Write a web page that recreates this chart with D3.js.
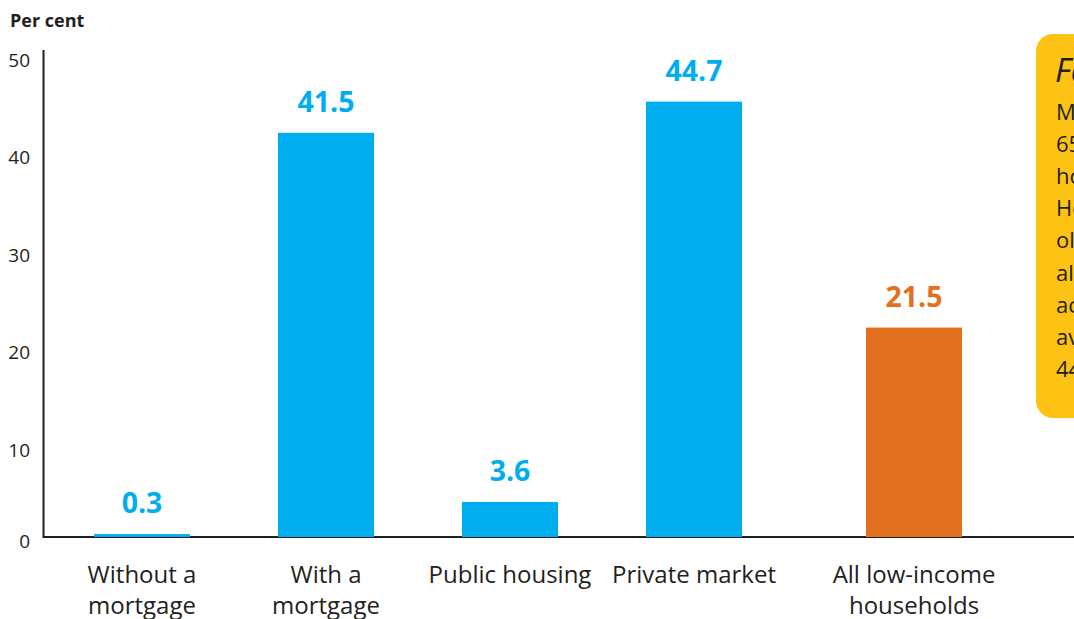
<!DOCTYPE html>
<html>
<head>
<meta charset="utf-8">
<script src="https://cdn.jsdelivr.net/npm/d3@7"></script>
<style>
  html, body { margin: 0; padding: 0; background: #fff; }
  svg { display: block; font-family: "Open Sans", "Noto Sans", sans-serif; }
</style>
</head>
<body>
<svg id="chart" width="1074" height="619"></svg>
<script>
// ---- data ----
const categories = ["Without a\nmortgage", "With a\nmortgage", "Public housing", "Private market", "All low-income\nhouseholds"];
const values = [0.3, 41.5, 3.6, 44.7, 21.5];
const isTotal = [false, false, false, false, true];
const yTicks = [0, 10, 20, 30, 40, 50];
const yTitle = "Per cent";
const calloutTitle = "Fast fact";
const calloutLines = ["Most", "65 per", "households", "However,", "older", "also", "across", "average", "44"];

// ---- style ----
const BLUE = "#00aeef", ORANGE = "#e2701e", YELLOW = "#fdc314", INK = "#231f20";

const svg = d3.select("#chart");

const y = d3.scaleLinear().domain([0, 50]).range([537, 50]);
const x = d3.scaleBand().domain(categories).range([50, 50 + 5 * 184]).paddingInner(0.478).paddingOuter(0.239);
const totalGap = 36;
const xPos = (d, i) => x(d) + (isTotal[i] ? totalGap : 0);

// callout box (behind, partially off-canvas as in the original)
const cb = svg.append("g");
cb.append("rect").attr("x", 1036).attr("y", 34).attr("width", 120).attr("height", 384)
  .attr("rx", 17).attr("fill", YELLOW);
cb.append("text").attr("x", 1055).attr("y", 82).attr("font-size", 33).attr("font-style", "italic")
  .attr("fill", INK).text(calloutTitle);
cb.selectAll("text.body").data(calloutLines).join("text").attr("class", "body")
  .attr("x", 1056).attr("y", (d, i) => 120 + i * 32.1).attr("font-size", 22).attr("fill", INK).text(d => d);

// axes lines
svg.append("line").attr("x1", 43.5).attr("x2", 43.5).attr("y1", y(50)).attr("y2", y(0) + 1)
  .attr("stroke", INK).attr("stroke-width", 2);
svg.append("line").attr("x1", 43).attr("x2", 1074).attr("y1", y(0)).attr("y2", y(0))
  .attr("stroke", INK).attr("stroke-width", 2);

// y tick labels
svg.selectAll("text.ytick").data(yTicks).join("text").attr("class", "ytick")
  .attr("x", 30).attr("y", d => y(d) + (d === 0 ? 11 : 17)).attr("text-anchor", "end")
  .attr("font-size", 19).attr("fill", INK).text(d => d);

svg.append("text").attr("x", 10).attr("y", 27).attr("font-size", 18).attr("font-weight", "bold")
  .attr("fill", INK).text(yTitle);

// bars
svg.selectAll("rect.bar").data(categories).join("rect").attr("class", "bar")
  .attr("x", (d, i) => xPos(d, i)).attr("width", x.bandwidth())
  .attr("y", (d, i) => y(values[i])).attr("height", (d, i) => y(0) - y(values[i]))
  .attr("fill", (d, i) => isTotal[i] ? ORANGE : BLUE);

// value labels
svg.selectAll("text.val").data(categories).join("text").attr("class", "val")
  .attr("x", (d, i) => xPos(d, i) + x.bandwidth() / 2)
  .attr("y", (d, i) => y(values[i]) - 21)
  .attr("text-anchor", "middle").attr("font-size", 28.5).attr("font-weight", "bold")
  .attr("fill", (d, i) => isTotal[i] ? ORANGE : BLUE)
  .text((d, i) => values[i].toFixed(1));

// category labels
const cl = svg.selectAll("text.cat").data(categories).join("text").attr("class", "cat")
  .attr("text-anchor", "middle").attr("font-size", 24).attr("fill", INK);
cl.each(function(d, i) {
  const cx = xPos(d, i) + x.bandwidth() / 2;
  d3.select(this).selectAll("tspan").data(d.split("\n")).join("tspan")
    .attr("x", cx).attr("y", (t, j) => 583 + j * 31).text(t => t);
});
</script>
</body>
</html>
